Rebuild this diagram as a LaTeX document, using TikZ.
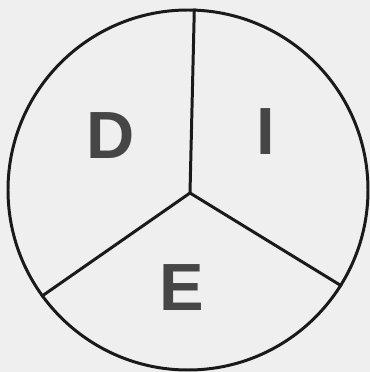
\documentclass[tikz,border=0pt]{standalone}
\usepackage{xcolor}
\usepackage{fontspec}
\usepackage{tikz}
\newfontfamily\letterfont{Liberation Sans}

\definecolor{paper}{HTML}{EFEFEF}
\definecolor{ink}{HTML}{1A1A1A}
\definecolor{lettergray}{HTML}{464646}

\begin{document}
\begin{tikzpicture}[line width=1.7pt, draw=ink,
  letter/.style={text=lettergray, inner sep=0pt, font=\letterfont\bfseries\fontsize{38}{38}\selectfont}]
% Paper
\fill[paper] (0,0) rectangle (7.4,7.44);
\useasboundingbox (0,0) rectangle (7.4,7.44);

% Outer circle
\node[draw=ink, circle, minimum size=7.2cm, inner sep=0pt] (disc) at (3.76,3.64) {};

% Dividing lines
\coordinate (hub) at (3.80,3.58);
\draw[ink] (hub) -- (disc.88.4);
\draw[ink] (hub) -- (disc.216);
\draw[ink] (hub) -- (disc.-32);

% Letters
\node[letter] (D) at (2.22,4.73) {D};
\node[letter] (I) at (5.31,4.81) {I};
\node[letter] (E) at (3.63,1.68) {E};
\end{tikzpicture}
\end{document}
